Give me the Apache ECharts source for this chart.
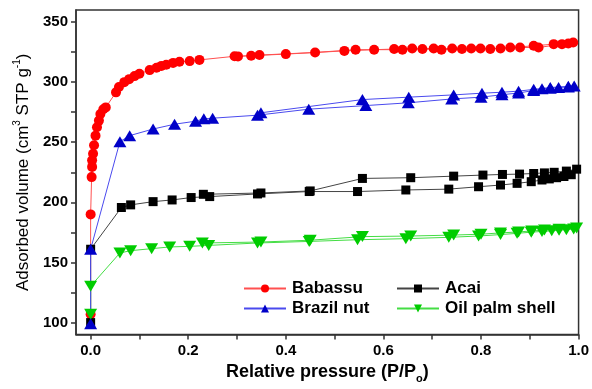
<!DOCTYPE html>
<html>
<head>
<meta charset="utf-8">
<script src="https://cdn.jsdelivr.net/npm/echarts@6/dist/echarts.min.js"></script>
<style>
  html, body { margin: 0; padding: 0; background: #fff; }
  #main { width: 592px; height: 389px; }
</style>
</head>
<body>
<div id="main"></div>
<script>
// axis ticks
var xTicks = [0, 0.2, 0.4, 0.6, 0.8, 1.0];
var xMinor = [0.1, 0.3, 0.5, 0.7, 0.9];
var yTicks = [100, 150, 200, 250, 300, 350];
var yMinor = [125, 175, 225, 275, 325];

// Babassu (adsorption then desorption)
var babassuP = [0, 0, 0.002, 0.003, 0.003, 0.005, 0.007, 0.01, 0.013, 0.017, 0.02, 0.026, 0.031, 0.052, 0.058, 0.069, 0.079, 0.09, 0.1, 0.121, 0.135, 0.145, 0.155, 0.169, 0.182, 0.203, 0.223, 0.295, 0.329, 0.4, 0.52, 0.581, 0.622, 0.659, 0.703, 0.741, 0.78, 0.819, 0.86, 0.908, 0.949, 0.979, 0.989,
  0.966, 0.918, 0.88, 0.84, 0.799, 0.761, 0.719, 0.68, 0.639, 0.543, 0.46, 0.346, 0.302];
var babassuV = [107, 190, 221, 229.5, 235, 240.5, 247.5, 255.5, 262.5, 268, 273.5, 277.5, 279, 291.5, 296, 300, 302.5, 305, 307, 310, 312, 313.5, 314.5, 316, 317, 317.5, 318.5, 321.5, 322, 323.3, 326, 327, 327.5, 328, 328, 328, 328, 327.5, 328.8, 330.2, 331.6, 332.2, 333,
  331.6, 328.8, 328.8, 328, 328, 327.5, 327, 327.5, 327, 327, 324.7, 322.5, 321.4];

// Brazil nut
var brazilP = [0, 0, 0.06, 0.08, 0.128, 0.172, 0.215, 0.232, 0.25, 0.342, 0.447, 0.564, 0.651, 0.74, 0.8, 0.843, 0.877, 0.908, 0.925, 0.942, 0.959, 0.979, 0.991,
  0.979, 0.942, 0.908, 0.877, 0.843, 0.802, 0.744, 0.652, 0.557, 0.349];
var brazilV = [99, 161, 250.5, 255.5, 261, 265, 267.5, 269.5, 270, 272.5, 277.5, 280.5, 282.8, 286, 287.5, 289.5, 291, 293, 294.5, 295, 295.5, 296, 296.7,
  296.5, 295.5, 294, 292.5, 291.6, 290.8, 289.4, 287.5, 285.5, 274.5];

// Acai
var acaiP = [0, 0, 0.063, 0.082, 0.128, 0.167, 0.206, 0.244, 0.342, 0.448, 0.547, 0.646, 0.734, 0.795, 0.84, 0.874, 0.903, 0.925, 0.94, 0.955, 0.97, 0.985, 0.996,
  0.975, 0.95, 0.93, 0.908, 0.879, 0.844, 0.804, 0.744, 0.656, 0.557, 0.45, 0.349, 0.231];
var acaiV = [100, 161, 195.7, 197.9, 200.6, 202, 204, 204.8, 207, 209, 209, 210.3, 211, 213, 214.4, 215.8, 217.2, 218.6, 219.5, 220.5, 221.5, 223, 227.6,
  226, 225, 224.5, 224, 223.5, 223.2, 222.7, 221.8, 220.5, 219.9, 209.5, 207.8, 206.7];

// Oil palm shell
var palmP = [0, 0, 0.06, 0.082, 0.125, 0.162, 0.203, 0.242, 0.342, 0.448, 0.547, 0.646, 0.734, 0.795, 0.84, 0.874, 0.903, 0.925, 0.945, 0.96, 0.975, 0.99,
  0.996, 0.96, 0.93, 0.904, 0.877, 0.84, 0.8, 0.744, 0.656, 0.557, 0.45, 0.349, 0.229];
var palmV = [107, 130.3, 157.9, 159.8, 161.5, 162.9, 163.4, 164.2, 166.2, 167.5, 168.9, 169.8, 170.9, 172, 173.2, 174.2, 175.2, 175.8, 176.3, 176.8, 177.3, 177.8,
  178.6, 177.7, 177, 176.2, 175.4, 174.6, 173.5, 172.8, 172, 171.5, 168.5, 167, 166.2];

function zip(xs, ys) {
  return xs.map(function (x, i) { return [x, ys[i]]; });
}

var font = '"Liberation Sans", Arial, sans-serif';
var chart = echarts.init(document.getElementById('main'));

var legendText = { fontFamily: font, fontWeight: 'bold', fontSize: 17, color: '#000', padding: [0, 0, 0, 1] };

var option = {
  animation: false,
  grid: { left: 76, top: 10, right: 11, bottom: 52, show: true, borderColor: '#333', borderWidth: 1.5, backgroundColor: 'transparent' },
  legend: [
    {
      data: ['Babassu', 'Brazil nut'],
      orient: 'vertical', left: 243, top: 280, padding: 0,
      itemWidth: 42, itemHeight: 10, itemGap: 3,
      textStyle: legendText
    },
    {
      data: ['Acai', 'Oil palm shell'],
      orient: 'vertical', left: 396, top: 280, padding: 0,
      itemWidth: 42, itemHeight: 10, itemGap: 3,
      textStyle: legendText
    }
  ],
  xAxis: {
    type: 'value', min: -0.03, max: 1.0,
    name: '{b|Relative pressure (P/P}{s|o}{b|)}',
    nameLocation: 'middle', nameGap: 26,
    nameTextStyle: {
      rich: {
        b: { fontFamily: font, fontWeight: 'bold', fontSize: 18, color: '#000', lineHeight: 22 },
        s: { fontFamily: font, fontWeight: 'bold', fontSize: 11, color: '#000', verticalAlign: 'bottom', padding: [12, 0, 0, 0] }
      }
    },
    axisLine: { onZero: false, lineStyle: { color: '#333', width: 1.5 } },
    axisTick: { show: true, inside: false, length: 5, customValues: xTicks.concat(xMinor), lineStyle: { color: '#333', width: 1.5 } },
    axisLabel: {
      customValues: xTicks, margin: 9,
      formatter: function (v) { return v.toFixed(1); },
      fontFamily: font, fontWeight: 'bold', fontSize: 15, color: '#000'
    },
    splitLine: { show: false }
  },
  yAxis: {
    type: 'value', min: 90, max: 360,
    name: '{t|Adsorbed volume (cm}{sup|3}{t| STP g}{sup|-1}{t|)}',
    nameLocation: 'middle', nameGap: 42, nameRotate: 90,
    nameTextStyle: {
      rich: {
        t: { fontFamily: font, fontSize: 17, color: '#000', lineHeight: 22 },
        sup: { fontFamily: font, fontSize: 10, color: '#000', verticalAlign: 'top' }
      }
    },
    axisLine: { onZero: false, lineStyle: { color: '#333', width: 1.5 } },
    axisTick: { show: true, inside: false, length: 5, customValues: yTicks.concat(yMinor), lineStyle: { color: '#333', width: 1.5 } },
    axisLabel: {
      customValues: yTicks, margin: 8,
      fontFamily: font, fontWeight: 'bold', fontSize: 15, color: '#000'
    },
    splitLine: { show: false }
  },
  series: [
    {
      name: 'Babassu', type: 'line', data: zip(babassuP, babassuV),
      symbol: 'circle', symbolSize: 10, color: '#ff0000',
      lineStyle: { width: 1, color: '#ff5050' }
    },
    {
      name: 'Acai', type: 'line', data: zip(acaiP, acaiV),
      symbol: 'rect', symbolSize: 9, color: '#000000',
      lineStyle: { width: 1, color: '#444' }
    },
    {
      name: 'Oil palm shell', type: 'line', data: zip(palmP, palmV),
      symbol: 'triangle', symbolRotate: 180, symbolSize: [13, 11], color: '#00cc00',
      lineStyle: { width: 1, color: '#44dd44' }
    },
    {
      name: 'Brazil nut', type: 'line', data: zip(brazilP, brazilV),
      symbol: 'triangle', symbolSize: [13, 11], color: '#0000c8',
      lineStyle: { width: 1, color: '#4a4aee' }
    }
  ]
};

chart.setOption(option);
</script>
</body>
</html>
